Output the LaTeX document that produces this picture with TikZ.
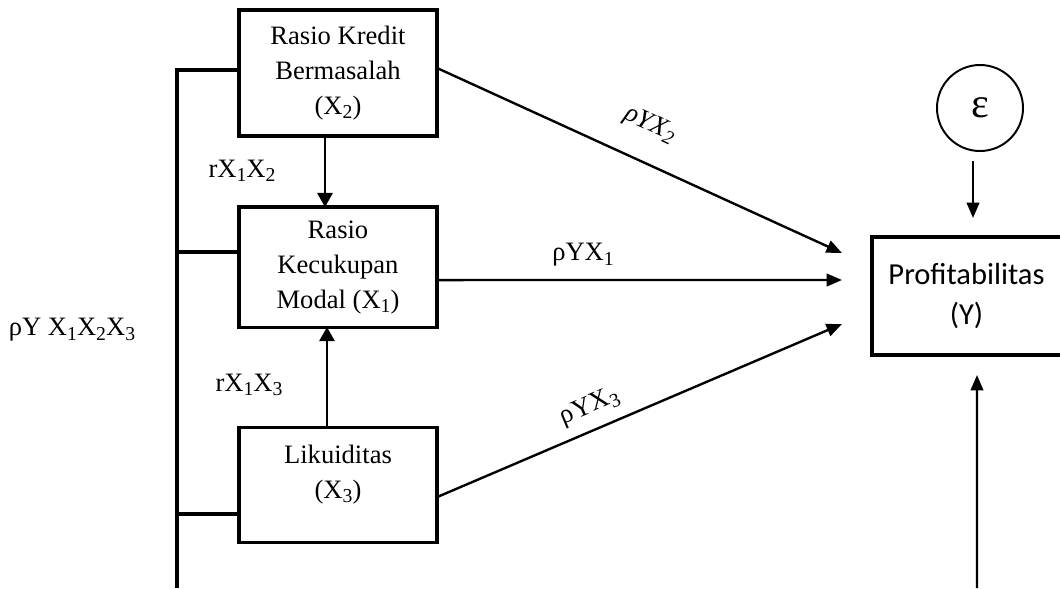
\documentclass[tikz,border=0pt]{standalone}
\usepackage{fontspec}
\setmainfont{Liberation Serif}
\newfontfamily\calibri{Carlito}
\usetikzlibrary{positioning,arrows.meta}
\newcommand{\idx}[1]{\raisebox{-0.35ex}{\fontsize{14}{14}\selectfont #1}}
\tikzstyle{block} = [rectangle, draw, line width=2.2pt, outer sep=0pt, align=center,
    minimum width=4.95cm, font=\fontsize{18.9}{24.9}\selectfont]
\tikzstyle{line} = [draw, line width=1.7pt, -{Triangle[length=11pt,width=9pt]}]
\tikzstyle{thinline} = [draw, line width=0.9pt, -{Triangle[length=10pt,width=11pt]}]
\tikzstyle{bracket} = [draw, line width=2.2pt]
\tikzstyle{coef} = [align=center, font=\fontsize{18.9}{24.9}\selectfont]

\begin{document}
\begin{tikzpicture}[x=0.025cm, y=-0.025cm]
      \useasboundingbox (0,0) rectangle (1060,588);
      % variables
      \node [block, minimum height=3.15cm] (x2) at (338,73) {Rasio Kredit\\Bermasalah\\(X\idx{2})};
      \node [block, minimum height=3cm, below=1.775cm of x2] (x1) {Rasio\\Kecukupan\\Modal (X\idx{1})};
      \node [block, minimum height=2.875cm, below=2.5cm of x1] (x3) {};
      \node [coef] (x3-text) at ([yshift=0.25cm]x3.center) {Likuiditas\\(X\idx{3})};
      \node [block, font=\calibri\fontsize{21.7}{28}\selectfont, minimum width=5.075cm,
          minimum height=2.95cm, text width=4.7cm] (prof) at (973.5,296) {\hspace*{-0.35cm}Profitabilitas\\\hspace*{-0.35cm}(Y)};
      \node [circle, draw, line width=1.4pt, minimum size=2.15cm,
          font=\fontsize{30}{34}\selectfont] (eps) at (980,108) {ε};
      % coefficients
      \node [coef] (r12) at (242,171) {rX\idx{1}X\idx{2}};
      \node [coef] (r13) at (249,385) {rX\idx{1}X\idx{3}};
      \node [coef] (p123) at (72,330) {ρY X\idx{1}X\idx{2}X\idx{3}};
      \node [coef, rotate=-25] (p2) at (650,125) {\itshape ρYX\idx{2}};
      \node [coef] (p1) at (583,255) {ρYX\idx{1}};
      \node [coef, rotate=23] (p3) at (590,407) {ρYX\idx{3}};
      % bracket on the left
      \coordinate (left-top) at (177,70);
      \coordinate (left-mid) at (177,252);
      \coordinate (left-low) at (177,514);
      \coordinate (left-bottom) at (177,588);
      \coordinate (right-bottom) at (977,588);
      \path [bracket] (left-top -| x2.west) -- (left-top) -- (left-bottom);
      \path [bracket] (left-mid) -- (left-mid -| x1.west);
      \path [bracket] (left-low) -- (left-low -| x3.west);
      % Draw edges
      \coordinate (end2) at (842,253);
      \coordinate (end1) at (842,280);
      \coordinate (end3) at (842,324);
      \path [line] ([shift={(0,-5)}]x2.east) -- (end2);
      \path [line] ([shift={(0,13)}]x1.east) -- (end1);
      \path [line] ([shift={(0,12.5)}]x3.east) -- (end3);
      \path [thinline] ([shift={(-13,0)}]x2.south) -- ([shift={(-13,0)}]x2.south |- x1.north);
      \path [thinline] ([shift={(-11,0)}]x3.north) -- ([shift={(-11,0)}]x3.north |- x1.south);
      \path [line] ([shift={(-7,9)}]eps.south) -- ([shift={(-0.5,-19)}]prof.north);
      \path [line] (right-bottom) -- ([shift={(3.5,20)}]prof.south);
  \end{tikzpicture}
\end{document}
